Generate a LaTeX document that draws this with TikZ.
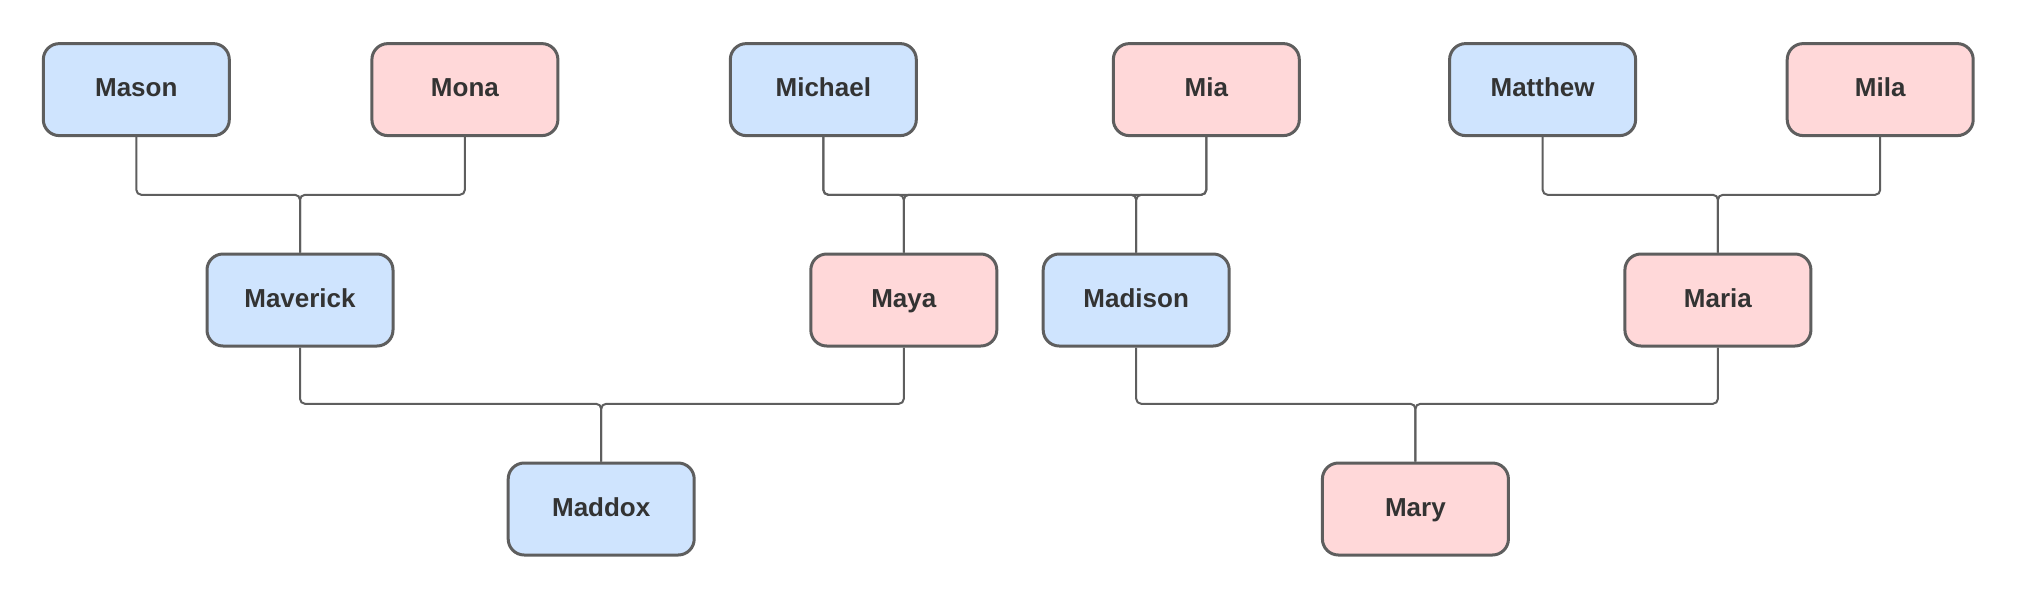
\documentclass[tikz,border=0pt]{standalone}
\usepackage{fontspec}
\setmainfont{Liberation Sans}
\definecolor{linec}{HTML}{5E5E5E}
\definecolor{textc}{HTML}{333333}
\definecolor{bluef}{HTML}{CFE4FE}
\definecolor{pinkf}{HTML}{FFD8D9}
\begin{document}
\begin{tikzpicture}[x=1pt,y=-1pt,
  person/.style={draw=linec, line width=3pt, rounded corners=16pt,
    minimum width=186pt, minimum height=92pt, inner sep=0pt,
    text height=18.5pt, text depth=4.5pt,
    font=\fontsize{26}{30}\selectfont\bfseries, text=textc},
  male/.style={person, fill=bluef},
  female/.style={person, fill=pinkf},
  link/.style={draw=linec, line width=2pt, rounded corners=5pt}]
\useasboundingbox (0,0) rectangle (2036,600);
% row 1
\node[male]   (mason)   at (136.3,89.6)  {Mason};
\node[female] (mona)    at (464.9,89.6)  {Mona};
\node[male]   (michael) at (823.3,89.6)  {Michael};
\node[female] (mia)     at (1206.3,89.6) {Mia};
\node[male]   (matthew) at (1542.6,89.6) {Matthew};
\node[female] (mila)    at (1880.2,89.6) {Mila};
% row 2
\node[male]   (maverick) at (300,300)    {Maverick};
\node[female] (maya)     at (903.8,300)  {Maya};
\node[male]   (madison)  at (1136.2,300) {Madison};
\node[female] (maria)    at (1717.9,300) {Maria};
% row 3
\node[male]   (maddox) at (601.2,509) {Maddox};
\node[female] (mary)   at (1415.4,509) {Mary};
% bus levels
\coordinate (busA) at (0,194.8);
\coordinate (busB) at (0,403.8);
% connectors
\draw[link] (mason.south) |- (busA -| maverick) -- (maverick.north);
\draw[link] (mona.south) |- (busA -| maverick) -- (maverick.north);
\draw[link] (michael.south) |- (busA -| maya) -- (maya.north);
\draw[link] (mia.south) |- (busA -| maya) -- (maya.north);
\draw[link] (michael.south) |- (busA -| madison) -- (madison.north);
\draw[link] (mia.south) |- (busA -| madison) -- (madison.north);
\draw[link] (matthew.south) |- (busA -| maria) -- (maria.north);
\draw[link] (mila.south) |- (busA -| maria) -- (maria.north);
\draw[link] (maverick.south) |- (busB -| maddox) -- (maddox.north);
\draw[link] (maya.south) |- (busB -| maddox) -- (maddox.north);
\draw[link] (madison.south) |- (busB -| mary) -- (mary.north);
\draw[link] (maria.south) |- (busB -| mary) -- (mary.north);
\end{tikzpicture}
\end{document}
